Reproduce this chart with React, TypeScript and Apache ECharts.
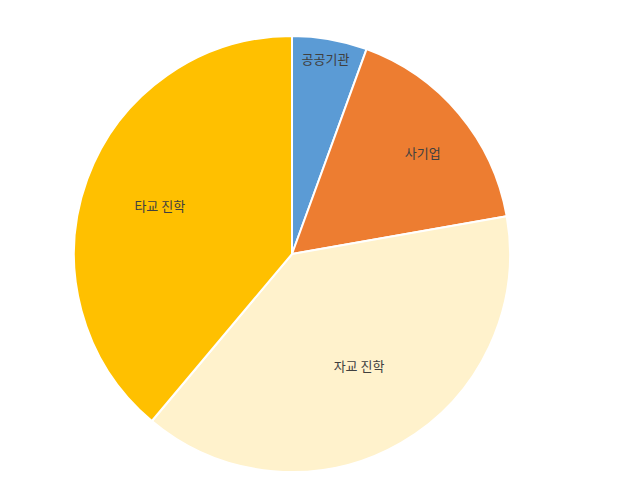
import React, { useEffect, useRef } from "react";
import * as echarts from "echarts";

const categories = ["공공기관", "사기업", "자교 진학", "타교 진학"];
const values = [2, 6, 14, 14];
const colors = ["#5B9BD5", "#ED7D31", "#FFF2CC", "#FFC000"];
const labelOffsets: [number, number][] = [[14, -85], [45, -30], [11, 15], [-27, -10]];

export default function App() {
  const ref = useRef<HTMLDivElement>(null);
  useEffect(() => {
    const chart = echarts.init(ref.current!, null, { renderer: "svg" });
    chart.setOption({
      animation: false,
      series: [
        {
          type: "pie",
          center: [292, 254],
          radius: [0, 218],
          startAngle: 90,
          clockwise: true,
          label: {
            show: true,
            position: "inside",
            color: "#404040",
            fontSize: 13,
            fontFamily: "Noto Sans CJK KR",
          },
          labelLine: { show: false },
          itemStyle: { borderColor: "#ffffff", borderWidth: 2 },
          emphasis: { disabled: true },
          data: categories.map((name, i) => ({
            name,
            value: values[i],
            itemStyle: { color: colors[i] },
            label: { offset: labelOffsets[i] },
          })),
        },
      ],
    });
    return () => chart.dispose();
  }, []);
  return (
    <div
      ref={ref}
      style={{ position: "fixed", left: 0, top: 0, width: 623, height: 495, background: "#ffffff" }}
    />
  );
}
